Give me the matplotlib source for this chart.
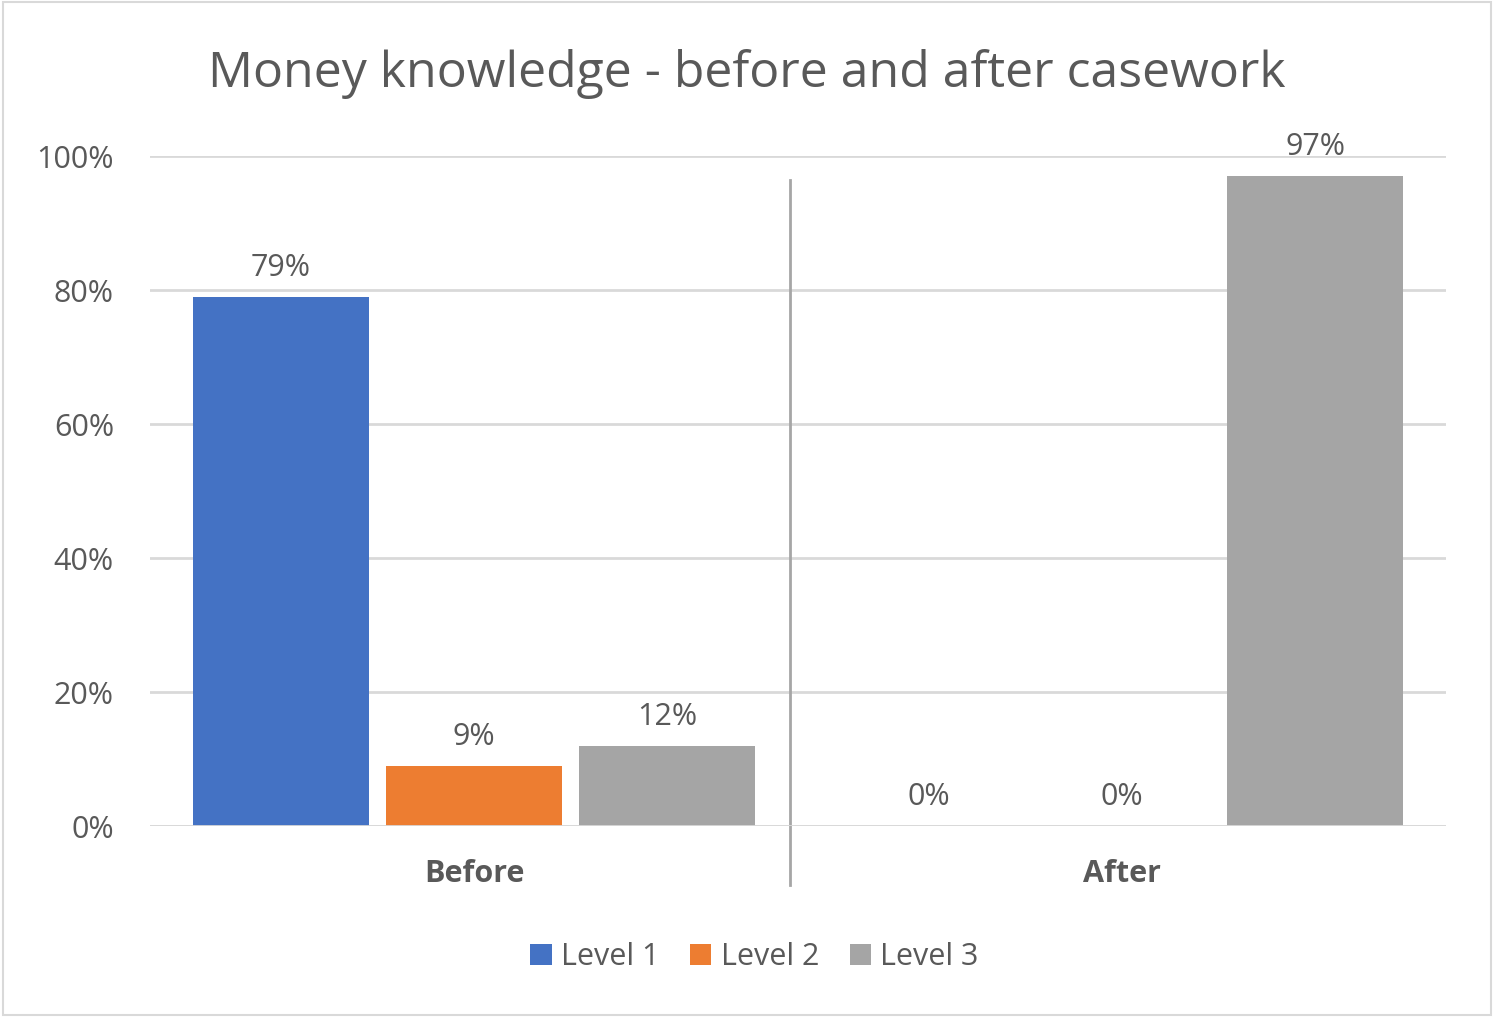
import matplotlib.pyplot as plt
import numpy as np
from matplotlib.patches import Rectangle

plt.rcParams['font.family'] = ['Open Sans', 'DejaVu Sans']

categories = ['Before', 'After']
series = ['Level 1', 'Level 2', 'Level 3']
values = {
    'Level 1': [0.79, 0.00],
    'Level 2': [0.09, 0.00],
    'Level 3': [0.12, 0.97],
}
colors = ['#4472c4', '#ed7d31', '#a5a5a5']
yticks = [0, 0.2, 0.4, 0.6, 0.8, 1.0]

text_col = '#595959'
fs = 22

fig = plt.figure(figsize=(14.94, 10.17), dpi=100)
fig.patches.append(Rectangle((0.002, 0.002), 0.996, 0.996, transform=fig.transFigure,
                             fill=False, edgecolor='#d9d9d9', linewidth=1.5))
ax = fig.add_axes([0.1004, 0.1878, 0.8675, 0.6588])

x = np.arange(len(categories))
step = 0.298
width = 0.272
for i, s in enumerate(series):
    pos = x + (i - 1) * step
    ax.bar(pos, values[s], width, color=colors[i], label=s, zorder=3)
    for xb, v in zip(pos, values[s]):
        ax.annotate(f'{v:.0%}', (xb, v), xytext=(0, 10), textcoords='offset points',
                    ha='center', va='bottom', fontsize=fs, color=text_col)

ax.set_xlim(-0.5, 1.5)
ax.set_ylim(0, 1.0)
ax.set_yticks(yticks)
ax.set_yticklabels([f'{t:.0%}' for t in yticks], fontsize=fs, color=text_col)
ax.set_xticks(x)
ax.set_xticklabels(categories, fontsize=fs, color=text_col, fontweight='bold')
ax.tick_params(axis='x', length=0, pad=24)
ax.tick_params(axis='y', length=0, pad=26)

ax.grid(axis='y', color='#d9d9d9', linewidth=2, zorder=0)
for sp in ax.spines.values():
    sp.set_visible(False)
ax.axhline(0, color='#d9d9d9', linewidth=2, zorder=4)
ax.axvline(0.488, ymin=-0.088, ymax=0.964, color='#a6a6a6', linewidth=2, clip_on=False)

fig.text(0.5, 1 - 74 / 1017, 'Money knowledge - before and after casework',
         ha='center', va='center', fontsize=36, color=text_col)

fig.legend(loc='center', bbox_to_anchor=(0.505, 1 - 957 / 1017), ncol=3, frameon=False,
           fontsize=fs, handlelength=0.7, handleheight=0.7, handletextpad=0.3,
           columnspacing=1.0, labelcolor=text_col)

plt.savefig('out.png', dpi=100)
